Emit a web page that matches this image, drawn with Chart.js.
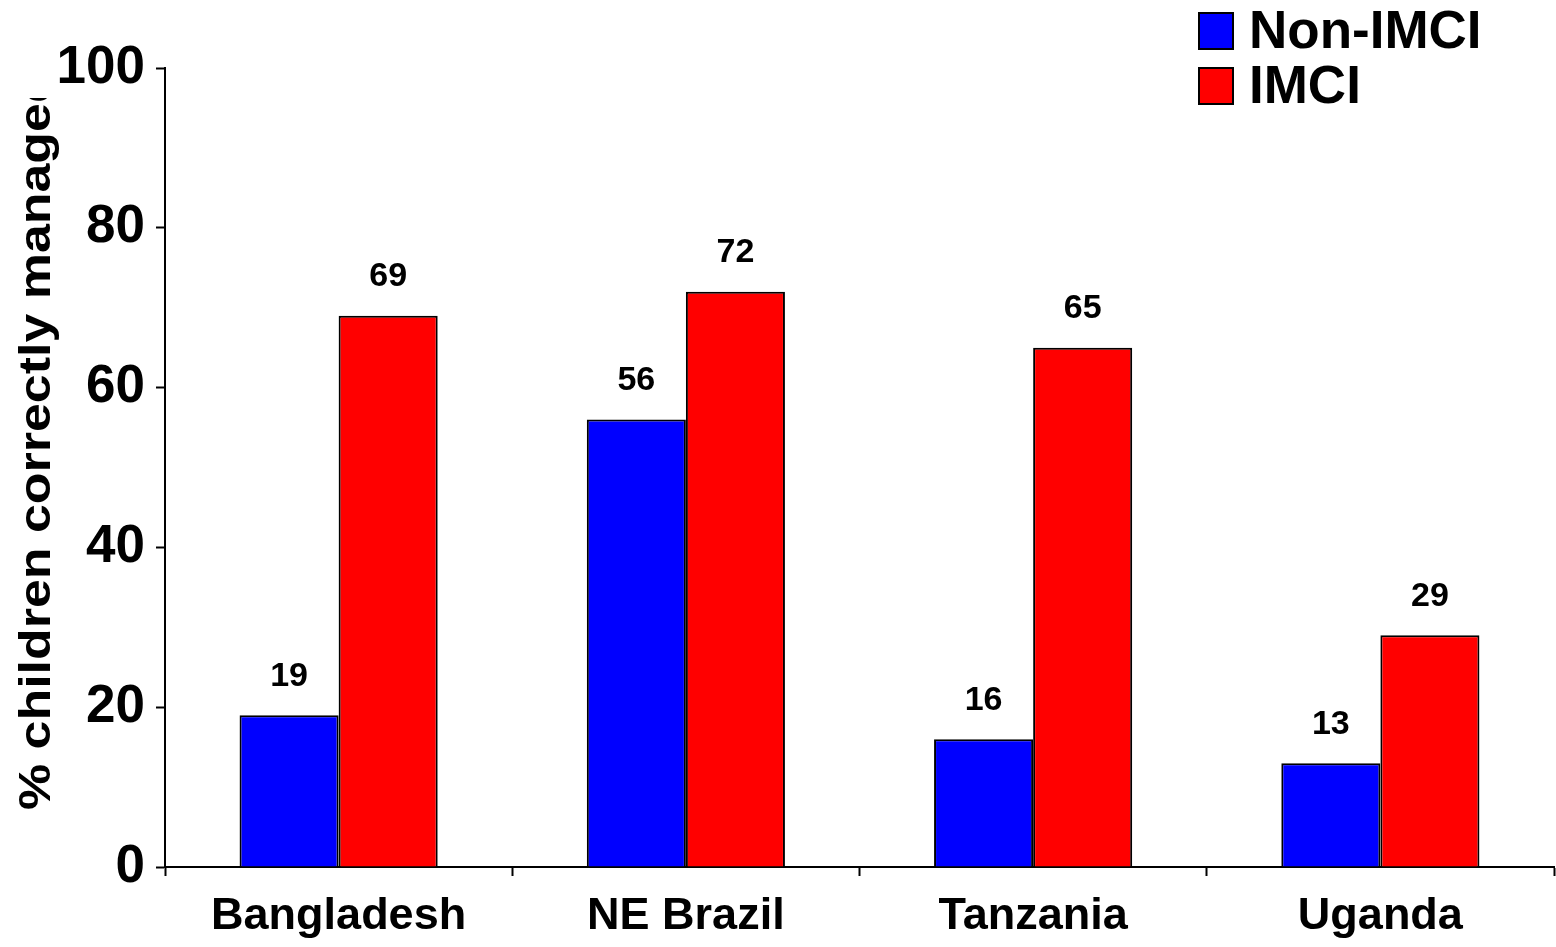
<!DOCTYPE html>
<html>
<head>
<meta charset="utf-8">
<script src="https://cdn.jsdelivr.net/npm/chart.js@4/dist/chart.umd.min.js"></script>
<style>
html,body{margin:0;padding:0;background:#fff;}
#wrap{width:1556px;height:947px;position:relative;}
</style>
</head>
<body>
<div id="wrap"><canvas id="c" width="1556" height="947"></canvas></div>
<script>
const categories = ["Bangladesh", "NE Brazil", "Tanzania", "Uganda"];
const nonImciValues = [19, 56, 16, 13];
const imciValues = [69, 72, 65, 29];
const yTicks = [0, 20, 40, 60, 80, 100];
const seriesNames = ["Non-IMCI", "IMCI"];
const seriesColors = ["#0000FF", "#FF0000"];
const yTitle = "% children correctly managed";

const FONT = "'Liberation Sans', Arial, sans-serif";

const valueLabels = {
  id: 'valueLabels',
  afterDatasetsDraw(chart) {
    const ctx = chart.ctx;
    ctx.save();
    ctx.font = "bold 34px " + FONT;
    ctx.fillStyle = "#000";
    ctx.textAlign = "center";
    ctx.textBaseline = "middle";
    chart.data.datasets.forEach((ds, i) => {
      const meta = chart.getDatasetMeta(i);
      meta.data.forEach((bar, j) => {
        ctx.fillText(String(ds.data[j]), bar.x, bar.y - 39);
      });
    });
    ctx.restore();
  }
};

const customLegend = {
  id: 'customLegend',
  afterDraw(chart) {
    const ctx = chart.ctx;
    ctx.save();
    ctx.font = "bold 53px " + FONT;
    ctx.textBaseline = "middle";
    ctx.textAlign = "left";
    chart.data.datasets.forEach((ds, i) => {
      const top = 13 + i * 55;
      ctx.fillStyle = ds.backgroundColor;
      ctx.fillRect(1199, top, 34, 36);
      ctx.strokeStyle = "#000";
      ctx.lineWidth = 2;
      ctx.strokeRect(1199, top, 34, 36);
      ctx.fillStyle = "#000";
      ctx.fillText(ds.label, 1249, top + 20);
    });
    ctx.restore();
  }
};

const yAxisTitle = {
  id: 'yAxisTitle',
  afterDraw(chart) {
    const ctx = chart.ctx;
    ctx.save();
    ctx.beginPath();
    ctx.rect(0, 98, 160, 947 - 98);
    ctx.clip();
    ctx.translate(50, 810);
    ctx.rotate(-Math.PI / 2);
    ctx.scale(1.18, 1);
    ctx.font = "bold 44px " + FONT;
    ctx.fillStyle = "#000";
    ctx.textAlign = "left";
    ctx.textBaseline = "alphabetic";
    ctx.fillText(yTitle, 0, 0);
    ctx.restore();
  }
};

new Chart(document.getElementById('c'), {
  type: 'bar',
  data: {
    labels: categories,
    datasets: [
      { label: seriesNames[0], data: nonImciValues, backgroundColor: seriesColors[0], borderColor: "#000", borderWidth: 2, borderSkipped: 'bottom' },
      { label: seriesNames[1], data: imciValues, backgroundColor: seriesColors[1], borderColor: "#000", borderWidth: 2, borderSkipped: 'bottom' }
    ]
  },
  options: {
    responsive: false,
    animation: false,
    devicePixelRatio: 1,
    layout: { padding: { top: 68, right: 2, left: 0, bottom: 0 } },
    datasets: { bar: { categoryPercentage: 0.5706, barPercentage: 1.0 } },
    plugins: { legend: { display: false }, tooltip: { enabled: false } },
    scales: {
      x: {
        offset: true,
        grid: { offset: true, drawOnChartArea: false, drawTicks: true, tickLength: 9, tickWidth: 2, tickColor: "#000" },
        border: { display: true, color: "#000", width: 2 },
        ticks: { color: "#000", font: { family: FONT, size: 45, weight: 'bold' }, padding: 14, maxRotation: 0, autoSkip: false },
        afterFit(s) { s.height = 80; }
      },
      y: {
        min: 0, max: 100,
        afterBuildTicks(s) { s.ticks = yTicks.map(v => ({ value: v })); },
        grid: { drawOnChartArea: false, drawTicks: true, tickLength: 9, tickWidth: 2, tickColor: "#000" },
        border: { display: true, color: "#000", width: 2 },
        ticks: { color: "#000", font: { family: FONT, size: 53, weight: 'bold' }, padding: 11 },
        afterFit(s) { s.width = 165; }
      }
    }
  },
  plugins: [valueLabels, customLegend, yAxisTitle]
});
</script>
</body>
</html>
